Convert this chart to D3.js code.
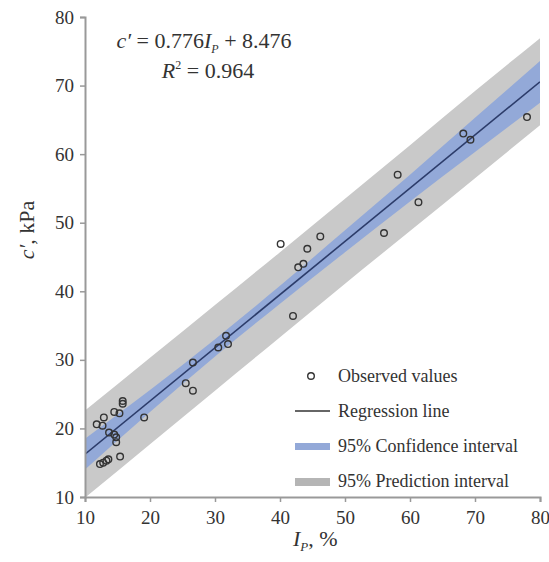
<!DOCTYPE html>
<html>
<head>
<meta charset="utf-8">
<script src="https://cdn.jsdelivr.net/npm/d3@7"></script>
<style>
	body { margin: 0; background: #fff; }
	text { font-family: "Liberation Serif", "DejaVu Serif", serif; fill: #333; }
</style>
</head>
<body>
<div id="chart"></div>
<script>
// observed values (Ip %, c' kPa)
var obsIp = [15.8, 15.8, 14.5, 15.3, 12.9, 11.8, 12.7, 19.1, 13.7, 14.5, 14.8, 14.8, 15.4, 13.6, 13.3, 12.8, 12.3,
	31.7, 30.5, 32.0, 26.6, 25.5, 26.6, 46.2, 44.2, 43.6, 42.8, 56.0, 61.3, 42.0, 68.2, 69.3, 78.0, 58.1, 40.1];
var obsC = [24.0, 23.6, 22.4, 22.2, 21.6, 20.6, 20.4, 21.6, 19.4, 19.1, 18.7, 18.0, 15.9, 15.5, 15.3, 15.0, 14.8,
	33.5, 31.8, 32.3, 29.6, 26.6, 25.5, 48.0, 46.2, 44.0, 43.5, 48.5, 53.0, 36.4, 63.0, 62.1, 65.4, 57.0, 46.9];

// regression c' = 0.776 Ip + 8.476
var slope = 0.776, intercept = 8.476;

// interval bands
var bandX   = [10, 20, 30, 40, 50, 60, 70, 80];
var piUpper = [22.6, 30.3, 38.0, 45.7, 53.5, 61.3, 69.2, 76.9];
var piLower = [9.9, 17.7, 25.5, 33.3, 41.1, 48.8, 56.5, 64.2];
var ciUpper = [18.5, 25.6, 33.0, 40.8, 48.9, 57.0, 65.3, 73.6];
var ciLower = [14.0, 22.4, 30.5, 38.2, 45.7, 53.1, 60.3, 67.5];

var xTicks = [10, 20, 30, 40, 50, 60, 70, 80];
var yTicks = [10, 20, 30, 40, 50, 60, 70, 80];

var legendItems = ["Observed values", "Regression line", "95% Confidence interval", "95% Prediction interval"];

var width = 549, height = 562;
var margin = {top: 17, right: 9, bottom: 65, left: 85};

var svg = d3.select("#chart").append("svg")
	.attr("width", width)
	.attr("height", height);

var x = d3.scaleLinear().domain([10, 80]).range([margin.left, width - margin.right]);
var y = d3.scaleLinear().domain([10, 80]).range([height - margin.bottom, margin.top]);

svg.append("clipPath").attr("id", "plotclip")
	.append("rect")
	.attr("x", margin.left).attr("y", margin.top)
	.attr("width", x(80) - x(10)).attr("height", y(10) - y(80));

var plot = svg.append("g").attr("clip-path", "url(#plotclip)");

var bandRows = bandX.map(function(d, i) {
	return {x: d, pu: piUpper[i], pl: piLower[i], cu: ciUpper[i], cl: ciLower[i]};
});

var piArea = d3.area()
	.x(function(d) { return x(d.x); })
	.y0(function(d) { return y(d.pl); })
	.y1(function(d) { return y(d.pu); })
	.curve(d3.curveMonotoneX);

var ciArea = d3.area()
	.x(function(d) { return x(d.x); })
	.y0(function(d) { return y(d.cl); })
	.y1(function(d) { return y(d.cu); })
	.curve(d3.curveMonotoneX);

plot.append("path").datum(bandRows).attr("d", piArea).attr("fill", "#c9c9c9");
plot.append("path").datum(bandRows).attr("d", ciArea).attr("fill", "#93a9d8");

// regression line
plot.append("line")
	.attr("x1", x(10)).attr("y1", y(slope * 10 + intercept))
	.attr("x2", x(80)).attr("y2", y(slope * 80 + intercept))
	.attr("stroke", "#2c3c6a")
	.attr("stroke-width", 1.6);

// observed points
svg.append("g").selectAll("circle")
	.data(obsIp)
	.enter().append("circle")
	.attr("cx", function(d) { return x(d); })
	.attr("cy", function(d, i) { return y(obsC[i]); })
	.attr("r", 3.3)
	.attr("fill", "none")
	.attr("stroke", "#333")
	.attr("stroke-width", 1.4);

// axes
var xAxis = svg.append("g")
	.attr("transform", "translate(0," + y(10) + ")")
	.call(d3.axisBottom(x).tickValues(xTicks).tickSize(5).tickPadding(9));
var yAxis = svg.append("g")
	.attr("transform", "translate(" + x(10) + ",0)")
	.call(d3.axisLeft(y).tickValues(yTicks).tickSize(5).tickPadding(6));

[xAxis, yAxis].forEach(function(a) {
	a.attr("font-family", "Liberation Serif").attr("font-size", 19);
	a.select(".domain").attr("stroke", "#999").attr("stroke-width", 2);
	a.selectAll(".tick line").attr("stroke", "#999").attr("stroke-width", 1.5);
	a.selectAll(".tick text")
		.attr("fill", "#333")
		.attr("font-family", "Liberation Serif")
		.style("font-family", "Liberation Serif")
		.style("font-size", "19px");
});

// axis titles
var xt = svg.append("text")
	.attr("x", 293).attr("y", 546)
	.style("font-size", "22px");
xt.append("tspan").style("font-style", "italic").text("I");
xt.append("tspan").style("font-style", "italic").style("font-size", "13px").attr("dy", 5).text("P");
xt.append("tspan").attr("dy", -5).text(", %");

var yt = svg.append("text")
	.attr("transform", "translate(34,230) rotate(-90)")
	.attr("text-anchor", "middle")
	.style("font-size", "22px");
yt.append("tspan").style("font-style", "italic").text("c′");
yt.append("tspan").text(", kPa");

// equation
var eq = svg.append("text")
	.attr("x", 204).attr("y", 48)
	.attr("text-anchor", "middle")
	.style("font-size", "22px");
eq.append("tspan").style("font-style", "italic").text("c′");
eq.append("tspan").text(" = " + slope + "");
eq.append("tspan").style("font-style", "italic").text("I");
eq.append("tspan").style("font-style", "italic").style("font-size", "12px").attr("dy", 5).text("P");
eq.append("tspan").attr("dy", -5).text(" + " + intercept);

var r2 = svg.append("text")
	.attr("x", 208).attr("y", 78)
	.attr("text-anchor", "middle")
	.style("font-size", "22px");
r2.append("tspan").style("font-style", "italic").text("R");
r2.append("tspan").style("font-size", "12px").attr("dy", -9).text("2");
r2.append("tspan").attr("dy", 9).text(" = 0.964");

// legend
var legY = [376, 411, 446, 481];
var leg = svg.append("g");
leg.append("circle").attr("cx", 311).attr("cy", legY[0]).attr("r", 3.3)
	.attr("fill", "none").attr("stroke", "#333").attr("stroke-width", 1.4);
leg.append("line").attr("x1", 295).attr("x2", 330).attr("y1", legY[1]).attr("y2", legY[1])
	.attr("stroke", "#333").attr("stroke-width", 1.3);
leg.append("rect").attr("x", 295).attr("y", legY[2] - 3).attr("width", 35).attr("height", 7).attr("fill", "#93a9d8");
leg.append("rect").attr("x", 295).attr("y", legY[3] - 3).attr("width", 35).attr("height", 8).attr("fill", "#b5b5b5");

leg.selectAll("text.lab")
	.data(legendItems)
	.enter().append("text")
	.attr("class", "lab")
	.attr("x", 338)
	.attr("y", function(d, i) { return legY[i] + 6; })
	.style("font-size", "18px")
	.text(function(d) { return d; });
</script>
</body>
</html>
